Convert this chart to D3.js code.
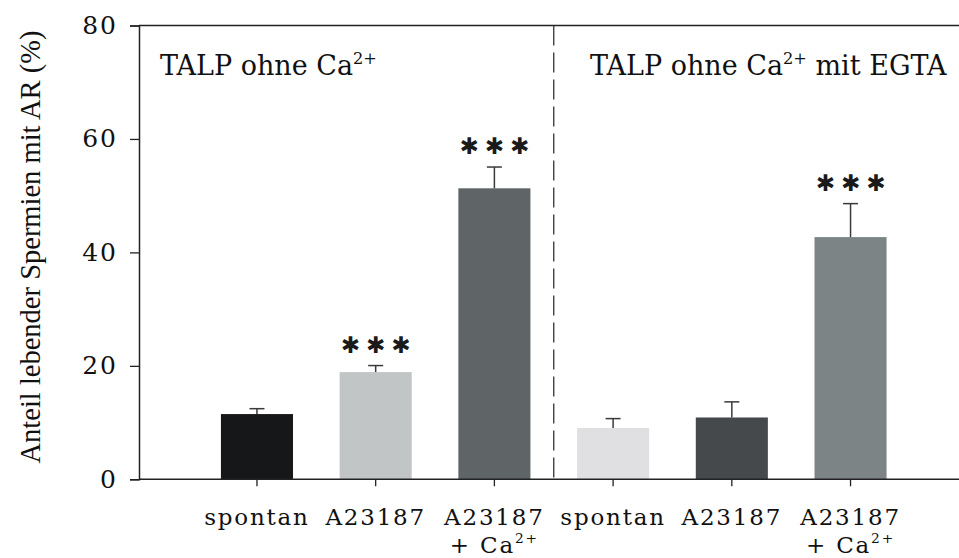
<!DOCTYPE html>
<html>
<head>
<meta charset="utf-8">
<script src="https://cdn.jsdelivr.net/npm/d3@7"></script>
<style>
  html, body { margin: 0; padding: 0; background: #fff; }
  svg { display: block; }
</style>
</head>
<body>
<svg id="chart" width="959" height="558"></svg>
<script>
// Acrosome reaction of live sperm, two Ca2+-free TALP media
const categories = ["spontan", "A23187", "A23187 + Ca^{2+}", "spontan ", "A23187 ", "A23187 + Ca^{2+} "];
const labelLines = [["spontan"], ["A23187"], ["A23187", "+ Ca^{2+}"], ["spontan"], ["A23187"], ["A23187", "+ Ca^{2+}"]];
const means = [11.5, 18.9, 51.3, 9.05, 10.9, 42.7];
const errUpper = [0.95, 1.15, 3.75, 1.65, 2.75, 5.9];
const barColors = ["#161719", "#c2c5c6", "#5f6567", "#e0e0e2", "#45494c", "#7d8486"];
const significance = ["", "\u2731\u2731\u2731", "\u2731\u2731\u2731", "", "", "\u2731\u2731\u2731"];
const panelTitles = ["TALP ohne Ca^{2+}", "TALP ohne Ca^{2+} mit EGTA"];
const yTicks = [0, 20, 40, 60, 80];
const yTitle = "Anteil lebender Spermien mit AR (%)";

const svg = d3.select("#chart");
const W = 959;
const axisX = 139, plotTop = 25.5, plotBottom = 479.3;

const y = d3.scaleLinear().domain([0, 80]).range([plotBottom, plotTop]);
const x = d3.scaleBand().domain(categories).range([197.6, 909.9])
  .paddingInner(0.393).paddingOuter(0.1965);

const serif = "'DejaVu Serif', serif";

// write text with ^{..} superscripts as tspans
function richText(sel, str, size) {
  const parts = str.split(/(\^\{[^}]*\})/).filter(s => s.length);
  let lift = 0;
  parts.forEach(p => {
    if (p.startsWith("^{")) {
      lift = size * 0.42;
      sel.append("tspan").attr("dy", -lift).attr("font-size", size * 0.6)
        .text(p.slice(2, -1));
    } else {
      sel.append("tspan").attr("dy", lift).text(p);
      lift = 0;
    }
  });
}

// bars
svg.append("g").selectAll("rect").data(categories).join("rect")
  .attr("x", d => x(d))
  .attr("width", x.bandwidth())
  .attr("y", (d, i) => y(means[i]))
  .attr("height", (d, i) => y(0) - y(means[i]))
  .attr("fill", (d, i) => barColors[i]);

// upper error bars
const eb = svg.append("g").attr("stroke", "#3a3a3a").attr("stroke-width", 1.5);
categories.forEach((c, i) => {
  const cx = x(c) + x.bandwidth() / 2;
  eb.append("line").attr("x1", cx).attr("x2", cx)
    .attr("y1", y(means[i])).attr("y2", y(means[i] + errUpper[i]));
  eb.append("line").attr("x1", cx - 7.5).attr("x2", cx + 7.5)
    .attr("y1", y(means[i] + errUpper[i])).attr("y2", y(means[i] + errUpper[i]));
});

// significance stars
const starSpacing = 6;
categories.forEach((c, i) => {
  if (!significance[i]) return;
  const cx = x(c) + x.bandwidth() / 2;
  const yy = y(means[i] + errUpper[i]) - 21;
  svg.append("text")
    .attr("x", cx + starSpacing / 2).attr("y", yy)
    .attr("text-anchor", "middle")
    .attr("dominant-baseline", "central")
    .attr("font-family", "'DejaVu Sans', sans-serif")
    .attr("font-size", 23)
    .attr("letter-spacing", starSpacing)
    .attr("fill", "#1a1a1a")
    .text(significance[i]);
});

// frame: top line, x axis line
const frame = svg.append("g").attr("stroke", "#222").attr("stroke-width", 1.5);
frame.append("line").attr("x1", axisX).attr("x2", W).attr("y1", plotTop).attr("y2", plotTop);
frame.append("line").attr("x1", axisX).attr("x2", W).attr("y1", plotBottom).attr("y2", plotBottom);

// y axis
const yAxis = svg.append("g").attr("transform", `translate(${axisX},0)`)
  .call(d3.axisLeft(y).tickValues(yTicks).tickSize(9).tickPadding(12));
yAxis.select(".domain").attr("stroke", "#222").attr("stroke-width", 1.5);
yAxis.selectAll(".tick line").attr("stroke", "#222").attr("stroke-width", 1.3);
yAxis.selectAll(".tick text")
  .attr("font-family", serif).attr("font-size", 25).attr("fill", "#111")
  .attr("letter-spacing", 2);

// x axis ticks
const xAxis = svg.append("g").attr("transform", `translate(0,${plotBottom})`)
  .call(d3.axisBottom(x).tickSize(7).tickFormat(""));
xAxis.select(".domain").remove();
xAxis.selectAll(".tick line").attr("stroke", "#222").attr("stroke-width", 1.3);

// category labels
categories.forEach((c, i) => {
  const cx = x(c) + x.bandwidth() / 2;
  labelLines[i].forEach((ln, k) => {
    const t = svg.append("text")
      .attr("x", cx).attr("y", 525 + k * 28)
      .attr("text-anchor", "middle")
      .attr("font-family", serif).attr("font-size", 23)
      .attr("letter-spacing", 1.8)
      .attr("fill", "#111");
    richText(t, ln, 23);
  });
});

// divider between the two media
const divX = (x(categories[2]) + x.bandwidth() + x(categories[3])) / 2;
svg.append("line")
  .attr("x1", divX).attr("x2", divX)
  .attr("y1", plotTop).attr("y2", plotBottom)
  .attr("stroke", "#333").attr("stroke-width", 1.3)
  .attr("stroke-dasharray", "20,7");

// panel titles
[160, 590].forEach((px, i) => {
  const t = svg.append("text").attr("x", px).attr("y", 75)
    .attr("font-family", serif).attr("font-size", 27)
    .attr("fill", "#111");
  richText(t, panelTitles[i], 27);
});

// y axis title
svg.append("text")
  .attr("transform", "translate(40,247) rotate(-90)")
  .attr("text-anchor", "middle")
  .attr("font-family", "'Liberation Serif', serif")
  .attr("font-size", 28.5)
  .attr("fill", "#111")
  .text(yTitle);
</script>
</body>
</html>
